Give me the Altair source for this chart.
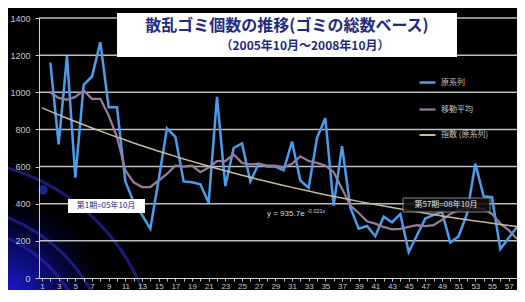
import altair as alt
import pandas as pd

# ---- data ----
periods = list(range(2, 59))
raw = [1160, 720, 1195, 540, 1040, 1085, 1270, 920, 920, 520, 410, 340, 265, 530,
       806, 760, 520, 515, 505, 405, 975, 495, 700, 725, 520, 615, 600, 600, 580,
       735, 525, 485, 755, 860, 390, 710, 380, 265, 280, 225, 330, 300, 345, 140,
       230, 320, 340, 355, 190, 225, 345, 615, 440, 435, 155, 215, 275]
mov = [1000, 970, 960, 975, 1010, 965, 965, 875, 760, 580, 515, 490, 490, 525,
       560, 605, 600, 605, 570, 595, 630, 630, 665, 620, 612, 615, 605, 605, 595,
       615, 655, 630, 620, 605, 570, 480, 390, 350, 305, 293, 275, 262, 265, 275,
       284, 280, 285, 313, 345, 365, 376, 376, 372, 345, 293, 258, 210]
# exponential trendline as printed on the chart: y = 935.7 e^(-0.021x)
trend_a = 935.7
trend_b = -0.021
names = ["原系列", "移動平均", "指数 (原系列)"]
colors = ["#4a9ded", "#957c9a", "#c9b99a"]
widths = [2.5, 2.0, 1.5]
y_ticks = [0, 200, 400, 600, 800, 1000, 1200, 1400]
x_ticks = list(range(1, 59))
title_main = "散乱ゴミ個数の推移(ゴミの総数ベース)"
title_sub = "（2005年10月～2008年10月）"
note_first = "第1期=05年10月"
note_last = "第57期=08年10月"
eq_main = "y = 935.7e"
eq_exp = "-0.021x"
glow_radii = [144, 163, 210]

JP = "Noto Sans CJK JP"
LAT = "Liberation Sans"

df = pd.DataFrame({
    "period": periods * 2,
    "value": raw + mov,
    "series": [names[0]] * len(raw) + [names[1]] * len(mov),
})

x_enc = alt.X("period:Q",
              scale=alt.Scale(domain=[0.64, 58], nice=False, zero=False),
              axis=alt.Axis(values=x_ticks, title=None, grid=False,
                            labelExpr="datum.value % 2 == 1 ? datum.label : ''",
                            labelFlush=False, labelOverlap=False,
                            labelColor="#c8c8c8", labelFontSize=8, labelFont=LAT,
                            tickColor="#c8c8c8", tickSize=3, labelPadding=1,
                            domainColor="#d0d0d0", zindex=1))
y_enc = alt.Y("value:Q",
              scale=alt.Scale(domain=[0, 1400], nice=False, zero=True),
              axis=alt.Axis(values=y_ticks, title=None, grid=False, format="d",
                            labelColor="#c8c8c8", labelFontSize=9, labelFont=LAT,
                            tickColor="#c8c8c8", tickSize=4, labelPadding=5,
                            domainColor="#d0d0d0", zindex=1))
color_enc = alt.Color("series:N",
                      scale=alt.Scale(domain=names, range=colors),
                      sort=names,
                      legend=alt.Legend(orient="none", legendX=379, legendY=55,
                                        title=None, symbolType="stroke",
                                        symbolSize=256, symbolStrokeWidth=2,
                                        labelColor="#c0c0c0", labelFontSize=8,
                                        labelFont=JP, rowPadding=12,
                                        labelOffset=4))

one = alt.Data(values=[{}])

# decorative glow in the lower-left corner
glow = alt.Chart(one).mark_rect(
    fill=alt.Gradient(gradient="radial", x1=0, y1=1, r1=0, x2=0, y2=1, r2=1,
                      stops=[alt.GradientStop(offset=0, color="#1a1ad0"),
                             alt.GradientStop(offset=0.45, color="#0a0a66"),
                             alt.GradientStop(offset=1, color="rgba(0,0,0,0)")]),
).encode(x=alt.value(-31), x2=alt.value(75), y=alt.value(175), y2=alt.value(272))

arcs = alt.Chart(pd.DataFrame({"r": glow_radii})).transform_calculate(
    r2="datum.r - 3").mark_arc(theta=0, theta2=1.5708, color="#2626a8",
                               opacity=0.7).encode(
    x=alt.value(-90), y=alt.value(350),
    radius=alt.Radius("r:Q", scale=None), radius2=alt.Radius2("r2:Q"))

dot = alt.Chart(one).mark_circle(color="#2a40e8", size=90, opacity=0.6).encode(
    x=alt.value(4), y=alt.value(172))

grid = alt.Chart(pd.DataFrame({"value": y_ticks[1:]})).mark_rule(
    color="#bdbdbd", strokeWidth=1.5).encode(y=y_enc)

lines = alt.Chart(df).mark_line(clip=True).encode(
    x=x_enc, y=y_enc, color=color_enc,
    strokeWidth=alt.StrokeWidth("series:N",
                                scale=alt.Scale(domain=names, range=widths),
                                legend=None))

trend = alt.Chart(pd.DataFrame({"period": x_ticks})).transform_calculate(
    value=f"{trend_a} * exp({trend_b} * datum.period)",
    series=f"'{names[2]}'"
).mark_line(strokeWidth=1.5, clip=True).encode(x=x_enc, y=y_enc, color=color_enc)

# title box
tbox = alt.Chart(one).mark_rect(fill="white").encode(
    x=alt.value(78), x2=alt.value(418), y=alt.value(-5), y2=alt.value(39))
t1 = alt.Chart(one).mark_text(text=title_main, font=JP, fontSize=16,
                              fontWeight="bold", color="#1f2a80",
                              baseline="middle", align="center").encode(
    x=alt.value(248), y=alt.value(8))
t2 = alt.Chart(one).mark_text(text=title_sub, font=JP, fontSize=12,
                              fontWeight="bold", color="#1f2a80",
                              baseline="middle", align="center").encode(
    x=alt.value(266), y=alt.value(28))

# annotations
n1box = alt.Chart(one).mark_rect(fill="white").encode(
    x=alt.value(29), x2=alt.value(106), y=alt.value(181), y2=alt.value(195))
n1 = alt.Chart(one).mark_text(text=note_first, font=JP, fontSize=8,
                              color="#1f2a80", baseline="middle").encode(
    x=alt.value(67), y=alt.value(188))
n2box = alt.Chart(one).mark_rect(fill="#111111", stroke="#9a9a9a",
                                 strokeWidth=1, opacity=0.85).encode(
    x=alt.value(364), x2=alt.value(451), y=alt.value(180), y2=alt.value(194))
n2 = alt.Chart(one).mark_text(text=note_last, font=JP, fontSize=8,
                              color="#e0e0e0", baseline="middle").encode(
    x=alt.value(407), y=alt.value(187))
eq1 = alt.Chart(one).mark_text(text=eq_main, font=LAT, fontSize=8,
                               color="#d8d8d8", align="left",
                               baseline="middle").encode(
    x=alt.value(228), y=alt.value(196))
eq2 = alt.Chart(one).mark_text(text=eq_exp, font=LAT, fontSize=5.5,
                               color="#d8d8d8", align="left",
                               baseline="middle").encode(
    x=alt.value(268), y=alt.value(193))

chart = alt.layer(
    glow, arcs, dot, grid, lines, trend,
    tbox, t1, t2, n1box, n1, n2box, n2, eq1, eq2
).properties(
    width=478, height=260,
    padding={"left": 31, "top": 10, "right": 0, "bottom": 12},
    autosize=alt.AutoSizeParams(type="none"),
    background="black",
).configure_view(stroke=None)

chart.save("out.html", embed_options={"renderer": "svg", "actions": False})
